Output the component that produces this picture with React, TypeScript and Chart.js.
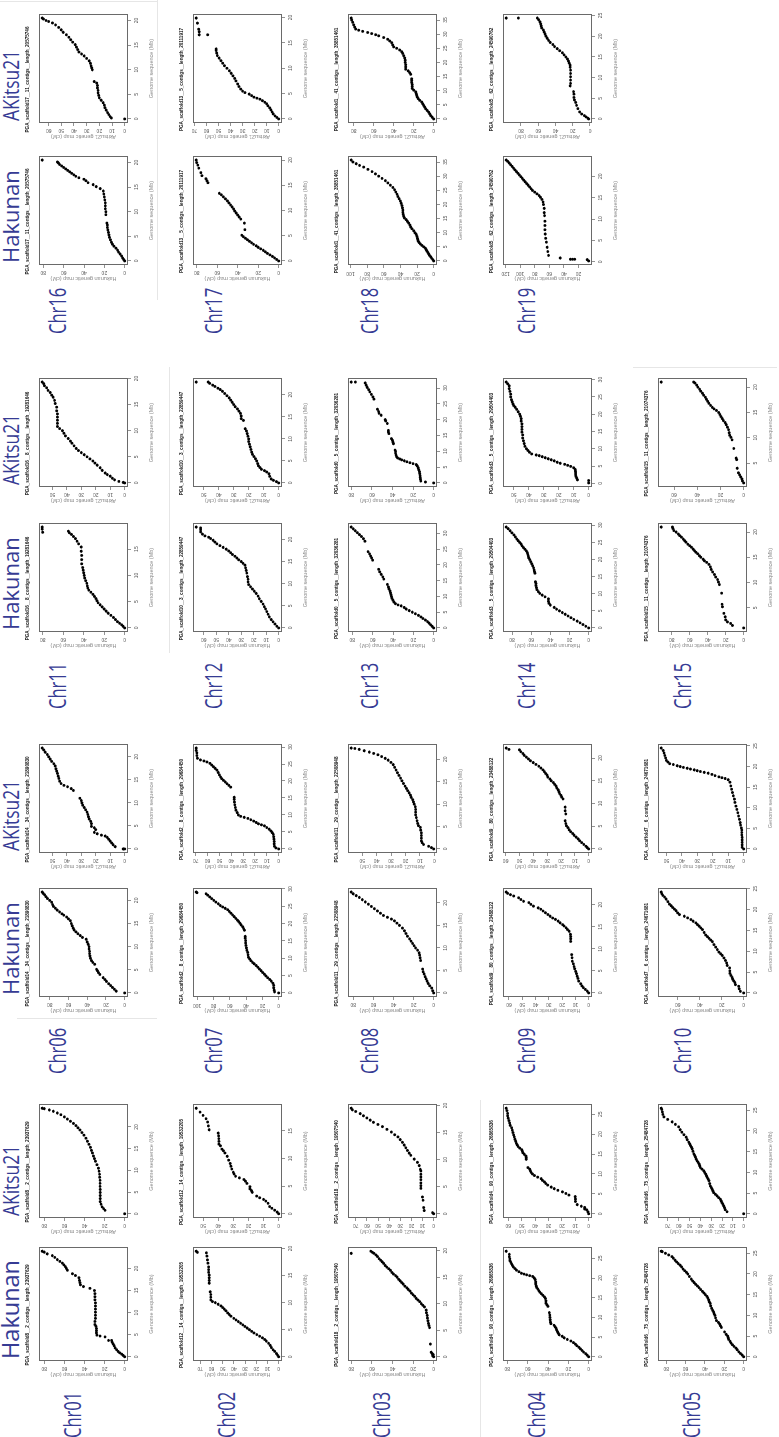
import React, { useEffect, useRef } from 'react';
import { Chart, registerables } from 'chart.js';

Chart.register(...registerables);

type Pt = [number, number];

// ---------- categories / titles ----------
const chromosomes = ['Chr01','Chr02','Chr03','Chr04','Chr05','Chr06','Chr07','Chr08','Chr09','Chr10','Chr11','Chr12','Chr13','Chr14','Chr15','Chr16','Chr17','Chr18','Chr19'];
const scaffoldNames = [
  'PGA_scaffold8__2_contigs__length_23937629',
  'PGA_scaffold12__14_contigs__length_19532205',
  'PGA_scaffold18__2_contigs__length_19507540',
  'PGA_scaffold4__90_contigs__length_26865836',
  'PGA_scaffold6__75_contigs__length_25484728',
  'PGA_scaffold14__34_contigs__length_21890830',
  'PGA_scaffold2__8_contigs__length_29684450',
  'PGA_scaffold11__29_contigs__length_22508948',
  'PGA_scaffold9__80_contigs__length_23488122',
  'PGA_scaffold7__6_contigs__length_24671681',
  'PGA_scaffold16__8_contigs__length_19281646',
  'PGA_scaffold10__3_contigs__length_22859447',
  'PGA_scaffold0__5_contigs__length_32036281',
  'PGA_scaffold3__5_contigs__length_29504403',
  'PGA_scaffold15__11_contigs__length_21074376',
  'PGA_scaffold17__11_contigs__length_20575746',
  'PGA_scaffold13__5_contigs__length_20111917',
  'PGA_scaffold1__41_contigs__length_35851461',
  'PGA_scaffold5__62_contigs__length_24590762',
];
const mapNames = ['Hakunan', 'AKitsu21'];
const yAxisLabels = ['Hakunan genetic map (cM)', 'Akitsu21 genetic map (cM)'];
const xAxisLabel = 'Genome sequence (Mb)';

// ---------- tick labels ----------
const mb20 = [0, 5, 10, 15, 20];
const mb25 = [0, 5, 10, 15, 20, 25];
const mb30 = [0, 5, 10, 15, 20, 25, 30];
const mb35 = [0, 5, 10, 15, 20, 25, 30, 35];
const cm50 = [0, 10, 20, 30, 40, 50];
const cm60 = [0, 10, 20, 30, 40, 50, 60];
const cm70 = [0, 10, 20, 30, 40, 50, 60, 70];
const cm60by20 = [0, 20, 40, 60];
const cm80by20 = [0, 20, 40, 60, 80];
const cm100by20 = [0, 20, 40, 60, 80, 100];
const cm120by20 = [0, 20, 40, 60, 80, 100, 120];
const mbTicksByChr = [mb20, mb20, mb20, mb25, mb25, mb20, mb30, mb20, mb20, mb25, mb20, mb20, mb30, mb30, mb20, mb20, mb20, mb35, mb25];
const hakunanCmTicks = [cm80by20, cm70, cm80by20, cm80by20, cm80by20, cm80by20, cm100by20, cm80by20, cm60, cm60by20, cm80by20, cm70, cm80by20, cm80by20, cm80by20, cm80by20, cm80by20, cm100by20, cm120by20];
const akitsuCmTicks = [cm80by20, cm50, cm70, cm60, cm70, cm50, cm70, cm60, cm60, cm50, cm50, cm50, cm80by20, cm50, cm60by20, cm60, cm70, cm80by20, cm80by20];

// ---------- series values: [genome Mb, genetic map cM] ----------
const chr01Hakunan: Pt[] = [[0,0],[0.3,1.5],[0.6,3],[0.9,5],[1.2,6.5],[1.6,8],[2,9.5],[2.5,10.5],[2.9,11.5],[3.3,12.5],[3.7,13],[3.7,16],[4.5,19.5],[4.7,24.5],[4.9,27.5],[5.4,28],[5.9,28],[6.4,28],[6.9,28.5],[7.3,29.5],[8,29.5],[8.7,29],[9.4,29],[10.1,29],[10.8,29],[11.5,29],[12.2,29],[12.9,29.5],[13.6,29.5],[14.3,29.5],[15,30],[15.5,34.5],[15.9,41],[16.3,44],[16.8,44.5],[17.3,45],[17.9,45.5],[18.4,49],[18.8,52],[19.6,57],[20,58],[20.4,59],[20.8,60.5],[21.2,62],[21.6,64.5],[22,67],[22.5,69.5],[22.9,72],[23.3,77],[23.7,80],[23.9,82]];
const chr01Akitsu: Pt[] = [[0,0],[0.8,19.5],[1.2,21],[1.6,22.5],[2.2,23.5],[2.8,24.3],[3.5,24.3],[4.2,24.3],[4.9,24.3],[5.6,24.3],[6.3,24.5],[7,24.5],[7.7,24.5],[8.4,24.8],[9.1,25],[9.8,25.5],[10.5,26],[11.3,27.5],[12.1,29],[12.7,30],[13.3,31],[14,32],[14.6,33],[15.3,34],[16,35.5],[16.7,37],[17.4,38.5],[18.1,40.5],[18.7,42.5],[19.3,44.5],[19.8,46.5],[20.3,48.5],[20.8,51],[21.3,54],[21.8,57],[22.3,60],[22.8,63.5],[23.2,67],[23.6,71],[23.9,75],[24.2,80],[24.3,82]];
const chr02Hakunan: Pt[] = [[0,0],[0.3,1],[0.6,2],[1,3.5],[1.3,5],[1.7,6.5],[2.1,7.5],[2.5,9],[2.9,11],[3.2,12.5],[3.5,14.5],[3.8,17],[4.1,19.5],[4.4,22],[4.7,24],[5,26],[5.3,28],[5.6,30],[5.9,32],[6.2,34],[6.5,36],[6.8,38],[7.1,40],[7.5,42.5],[7.8,44],[8.1,45.5],[8.5,47],[8.8,48.5],[9.1,50],[9.4,51.5],[9.7,54],[10,56.5],[10.2,59],[10.5,60.5],[11,60.5],[11.5,60.5],[12,61],[13.6,62],[14.1,62],[14.6,62],[15.1,62],[15.6,62.5],[16.1,62.5],[16.6,62.5],[17.3,63],[17.9,63.5],[18.6,64],[19.2,64.5],[19.3,72.5],[19.5,73.5]];
const chr02Akitsu: Pt[] = [[0,0],[0.3,1],[0.65,2.6],[1,4.5],[1.3,6],[1.9,7],[2.3,8.5],[2.6,10],[2.9,12.5],[3.2,14.5],[3.9,17.5],[4.2,18],[4.5,19],[4.9,19],[5.5,21],[5.9,22],[6.2,23],[6.5,26],[6.8,28.5],[7.2,29.5],[7.5,30],[8.1,31],[8.6,31.5],[9.1,32],[9.7,33],[10.4,34],[11,35.5],[11.4,36.5],[11.7,37.5],[12.3,38.5],[12.6,39.5],[13.1,39.5],[13.6,39.6],[14.1,39.7],[14.6,40],[15.2,46],[15.9,46.5],[16.6,47],[17.2,48],[17.8,50],[18.4,52],[19.1,54.5]];
const chr03Hakunan: Pt[] = [[0,0],[0.2,1],[0.4,0.5],[0.6,1.5],[0.85,2.5],[2.4,3.2],[5.5,4],[5.9,4.5],[6.3,5],[6.8,5.5],[7.3,6],[7.8,6.3],[8.3,7],[8.8,7.3],[9.4,8.9],[9.7,10.5],[10,12],[10.4,13.5],[10.7,15.2],[11,17],[11.4,18.4],[11.7,20],[12,21.5],[12.4,23],[12.7,24.7],[13,26],[13.3,27.8],[13.7,29.5],[14,31],[14.3,32.5],[14.6,34],[15,35.5],[15.3,37],[15.6,39],[15.9,40.5],[16.3,42],[16.6,43.7],[16.9,45.5],[17.2,47],[17.6,48.5],[17.9,50],[18.2,51.5],[18.5,53],[18.9,54.5],[19.2,56],[19.5,58],[19.7,59.5],[19.9,61],[19.5,80]];
const chr03Akitsu: Pt[] = [[0,0],[0.2,1],[0.6,8.5],[1.15,9],[2.5,9.5],[3.1,10],[4.7,11.5],[5.2,11.5],[5.7,11.5],[6.3,11.5],[6.8,11.5],[7.3,11.5],[7.9,11.5],[8.2,12],[8.9,13],[9.5,14.5],[10.1,17.5],[10.8,20.5],[11.2,22],[11.7,23.5],[12.2,25],[12.7,26.5],[13.2,28],[13.7,30],[14.2,32],[14.6,35],[15.1,38],[15.6,42],[16.1,46],[16.5,50],[16.9,54],[17.3,57],[17.7,60],[18.1,63],[18.5,66],[18.9,70],[19.2,73],[19.5,74]];
const chr04Hakunan: Pt[] = [[0,0],[0.4,1.5],[0.8,3],[1.2,5],[1.6,6.5],[2,8],[2.4,9.5],[2.8,11.5],[3.2,13],[3.6,15],[4,17.5],[4.4,21],[4.8,24],[5.2,26],[5.6,29],[6,30],[6.4,30.6],[6.8,31.5],[7.2,32],[7.6,33],[8,34],[8.4,37],[8.8,37.5],[9.4,37.8],[10,38],[10.6,38.2],[11.2,38.7],[12.8,40],[13.2,41],[13.6,42],[14.2,42],[14.8,42.5],[15.2,43.5],[15.6,45],[16,46.5],[16.4,48],[16.8,49],[17.2,50],[17.6,51],[18,51.6],[18.5,52],[19,52],[19.6,52.5],[20,53.5],[20.4,55],[20.6,58],[20.8,61],[21,63.5],[21.2,66],[21.6,68.5],[22,71],[22.4,72.5],[22.8,74],[23.2,75],[23.6,75.8],[24,76.5],[24.4,77.4],[24.9,77.5],[25.4,78],[26,78],[26.8,81]];
const chr04Akitsu: Pt[] = [[0,0],[0.5,0.5],[1,1.5],[1.2,3],[1.6,3],[1.9,5.5],[2.3,8.6],[3.1,9.8],[3.7,9.8],[4.3,10],[4.7,14.7],[5.1,17],[5.5,19.6],[5.9,23],[6.3,25.7],[6.7,28],[7.2,30.6],[7.6,32],[8,33],[8.4,34.5],[8.8,35.5],[9.2,38],[9.6,40.4],[10,42],[10.4,43],[10.8,43.5],[11.2,44],[11.6,45.3],[13.7,46.6],[14.1,46.6],[14.5,46.8],[14.9,48],[15.3,49],[15.7,49.5],[16.1,50],[16.5,51.5],[16.9,52.7],[17.3,53.3],[17.7,54],[18.2,54.5],[18.7,55],[19.3,55.5],[19.8,56],[20.4,56.5],[21,57],[21.6,57.5],[22.2,58.5],[22.8,59],[23.4,59.5],[24,60],[24.6,60.5],[25.2,60.5],[25.9,61],[26.5,61.5]];
const chr05Hakunan: Pt[] = [[0,0],[0.4,1.5],[0.8,3.3],[1.2,5],[1.7,6.6],[2.1,8],[2.5,9.9],[2.9,11.5],[3.3,13],[3.7,14],[4.2,15.5],[4.6,16],[5,16.4],[5.4,18],[6,19.7],[7.1,23],[7.5,24],[7.9,24.7],[8.3,26],[8.75,28],[9.4,29],[10,29.6],[10.4,30.5],[10.8,31],[11.2,32],[11.7,33],[12.3,34],[12.9,34.5],[13.3,35.5],[13.75,36],[14.2,37],[14.6,37.8],[15,39.5],[15.4,41],[15.8,42.5],[16.25,44.4],[16.7,46],[17.1,47.7],[17.5,49.5],[17.9,51],[18.3,52.5],[18.75,54],[19.4,56],[20,57.6],[20.4,59],[20.8,60.8],[21.2,62.5],[21.7,64],[22.1,65.5],[22.5,67.4],[22.9,69],[23.3,70.7],[23.8,72.5],[24.2,74],[24.6,77.3],[25,80.6],[25.4,84],[25.5,85]];
const chr05Akitsu: Pt[] = [[0,0],[0.5,15.3],[1,17],[1.5,17.7],[1.9,18.4],[2.3,19.2],[2.7,20],[3.1,20.7],[3.5,21.5],[3.9,23],[4.3,24.5],[4.7,26],[5.1,27.6],[5.5,28.3],[5.9,29],[6.3,29.8],[6.7,30.7],[7.3,31.3],[8,32],[8.4,32.8],[8.8,33.7],[9.2,34.3],[9.6,35],[10,36],[10.4,36.8],[10.8,38.5],[11.2,40],[11.6,40.5],[12,41],[12.4,42],[12.8,43],[13.2,43.8],[13.7,44.5],[14.1,45.2],[14.5,46],[15.1,46.8],[15.7,47.5],[16.1,48.2],[16.5,49],[16.9,49.8],[17.3,50.6],[17.9,52],[18.5,53],[19.1,55],[19.7,57],[20.3,58.5],[21,60],[21.6,63],[22.2,66],[22.8,70],[23.4,73.5],[24,74.5],[24.6,75],[25.2,75.5],[25.5,76]];
const chr06Hakunan: Pt[] = [[0,0],[0.4,9],[0.8,11],[1.2,13],[1.6,15],[2,17],[2.5,19.5],[2.9,21],[3.3,23],[4,26.5],[4.4,28],[4.8,29],[5.1,30],[6.2,32],[6.6,34],[7,35.5],[7.5,36.5],[8,37],[8.5,37.5],[9,37.5],[9.5,38],[10,38],[10.5,39],[11,40],[11.6,41],[12,45],[12.4,47.5],[12.8,50],[13.2,52],[13.6,54],[14,55],[14.5,56],[15,57],[15.6,58],[16,60],[16.4,62],[16.8,65],[17.1,67],[17.5,69.5],[17.9,72],[18.3,74],[18.7,76],[19.1,77],[19.6,78],[20,80],[20.4,82.5],[20.8,84],[21.2,85.5],[21.5,87],[21.8,88]];
const chr06Akitsu: Pt[] = [[0,0],[0,1],[0.5,6.5],[0.9,8],[1.3,9],[1.7,10],[2.1,11],[2.5,12],[2.8,13.5],[3,16],[3.3,19],[3.6,21],[4.2,20],[4.6,21],[4.9,23],[5.5,23],[6,23.5],[6.5,24.5],[7,25],[7.5,25.5],[8,26],[8.5,27],[9,28],[9.5,29],[10,29.5],[10.5,30],[11,31],[12.7,35.5],[13.1,37],[13.5,39.5],[13.8,42],[14.2,44],[14.7,45],[15.3,45.5],[15.8,46],[16.4,46.5],[16.9,47],[17.4,47.5],[18,48],[18.5,49],[19,50.5],[19.5,51.5],[20,52.5],[20.5,53.5],[21,55],[21.5,56],[21.9,57]];
const chr07Hakunan: Pt[] = [[0,0],[0.3,5],[0.8,5.5],[1.5,6],[2.2,6],[2.8,7],[3.4,9],[3.9,11],[4.4,13.5],[4.9,15.5],[5.4,17.5],[5.9,19.5],[6.4,21.5],[6.9,23.5],[7.4,25.5],[7.9,27.5],[8.4,30],[8.8,32],[9.3,34],[9.8,35.5],[10.3,37],[11,37.5],[11.7,38],[12.3,39],[13,39.5],[13.7,40],[14.4,40.5],[15.1,40.5],[15.8,41],[16.3,41],[18.1,42],[18.6,43],[19.1,44],[19.6,46],[20.1,47.5],[20.6,49],[21,50.5],[21.5,52.5],[22,54.5],[22.5,56.5],[23,58.5],[23.5,60.5],[24,62.5],[24.4,65.5],[24.8,68.5],[25.2,71.5],[25.7,74],[26.2,77],[26.7,79.5],[27.2,82],[27.7,84.5],[28.2,87],[28.6,89],[28.9,100],[29.1,101]];
const chr07Akitsu: Pt[] = [[0,0],[0.3,2.3],[0.8,3.5],[1.5,3.7],[2.2,3.8],[2.9,4],[3.6,4.2],[4.3,4.5],[4.8,5.5],[5.3,6.5],[5.8,8],[6.3,10],[6.8,12],[7.1,14.5],[7.4,17],[7.8,19],[8.2,21],[8.6,23.5],[9,26],[9.3,29],[9.6,32],[10,34],[10.7,35],[11.4,36],[12.2,36.5],[13,37],[13.8,37.3],[14.6,37.5],[15.2,37.5],[18.2,40.5],[18.7,42],[19.2,43.5],[19.7,45],[20.2,46.5],[20.7,48],[21.2,49],[21.8,50],[22.5,51],[23.2,52],[23.7,53.5],[24.2,55],[24.7,56.5],[25.2,58],[25.6,60.5],[25.9,63],[26.2,66],[26.7,68.5],[27.5,69],[28.3,69],[29,69.5],[29.7,69.5]];
const chr08Hakunan: Pt[] = [[0,0],[0.5,1],[1.1,2],[1.6,4],[2.1,5.5],[2.6,6.5],[3.1,7.5],[3.6,8.5],[4.2,9.5],[4.7,10.5],[5.3,11],[7.2,13],[7.8,13.5],[8.4,14],[8.9,14.5],[9.5,16],[10,18],[10.5,19.5],[11,21],[11.5,22.5],[12,24],[12.6,26],[13.2,27.5],[13.8,29],[14.4,31],[15,34],[15.5,36.5],[16,39],[16.4,42],[16.8,46],[17.2,50],[17.7,53],[18.2,56],[18.7,59],[19.2,62],[19.7,65],[20.2,68],[20.7,71],[21.2,74],[21.6,77],[22,80],[22.4,82]];
const chr08Akitsu: Pt[] = [[0,0.5],[0.3,2],[0.6,4],[1,7.5],[1.4,8.5],[1.8,9],[2.4,9],[3,9],[3.6,9],[4.2,9.5],[4.8,9.7],[5.2,11],[5.7,11.5],[6.3,12],[7,12.5],[7.6,13],[8.2,13],[8.8,13],[9.4,13.2],[10,14],[10.5,14.5],[11,15],[11.5,16],[12,16.5],[12.5,17.5],[13,18.5],[13.5,19.3],[14,20.3],[14.6,21.4],[15.2,22.4],[15.8,23.4],[16.4,24.5],[17,25.5],[17.6,26.5],[18.2,27.5],[18.8,28.5],[19.3,30],[19.8,32],[20.2,34],[20.6,36.5],[21,39],[21.3,42],[21.6,45],[21.9,48.5],[22.2,52],[22.4,55],[22.5,57.5]];
const chr09Hakunan: Pt[] = [[0,0],[0.4,1],[0.8,2.5],[1.2,4],[1.6,5],[2.1,6],[2.7,7.5],[3.3,8],[3.8,8.6],[4.4,9.2],[4.9,9.8],[5.5,10.5],[6,11],[6.6,11.5],[7.2,12.3],[8,12.5],[8.7,12.7],[11.7,13.5],[12.3,13.5],[12.8,13.5],[13.3,13.7],[14,14.7],[14.4,16],[14.8,17],[15.2,18.5],[15.5,19.6],[15.9,21.5],[16.3,23],[16.7,25],[17,27],[17.4,29],[17.8,30.6],[18.2,32.5],[18.6,34.3],[19,36],[19.3,38],[19.7,41.5],[20.1,43.5],[20.5,45],[20.8,49],[21.2,51],[21.6,52.7],[22,56.4],[22.3,58.8],[22.6,61],[22.9,62]];
const chr09Akitsu: Pt[] = [[0,0],[0.3,1],[0.6,2],[1,3.5],[1.4,5],[1.8,6.5],[2.2,7.5],[2.6,9],[3,10.5],[3.4,11.5],[3.8,13],[4.2,14],[4.7,15],[5.1,16],[5.6,16.5],[6.2,17],[7.7,16.5],[8.4,17],[9.2,17],[11,18.5],[11.4,19.5],[11.8,20],[12.2,21],[12.6,21.5],[13,22],[13.4,23],[13.8,23.5],[14.2,24.5],[14.6,25.5],[15,27],[15.4,28],[15.8,29.5],[16.2,30],[16.6,31],[17,32],[17.4,33],[17.8,34.5],[18.2,36],[18.6,38],[19,40],[19.4,42],[19.8,43.5],[20.2,45],[20.6,46.5],[21,47.5],[21.4,49],[21.8,50],[21.9,57.5],[22.2,59.5]];
const chr10Hakunan: Pt[] = [[0,0],[0.4,3],[1,4],[1.6,4.5],[2,7.5],[2.5,8],[2.9,9],[3.3,10],[3.7,10.5],[4.2,11.5],[4.7,12.5],[5.3,12.6],[6,12.8],[6.6,15],[7.2,15.5],[7.8,16.5],[8.4,18],[9,19.5],[9.4,21],[9.8,22.5],[10.4,24],[11,25.5],[11.6,27],[12.3,28.5],[12.7,30],[13.1,31.5],[13.5,33],[13.9,34.5],[14.5,36],[15.2,37.5],[15.6,39],[16,40.5],[16.4,42],[16.8,43.5],[17.2,46],[17.6,48],[18,51],[18.4,54],[18.8,58.5],[19.2,60],[19.7,61.5],[20.1,63],[20.5,64.6],[20.9,66],[21.3,67.6],[21.9,69],[22.5,70.6],[23,72],[23.4,73.6],[23.8,74.5],[24.2,75]];
const chr10Akitsu: Pt[] = [[0,0],[0.4,1],[1,1],[1.6,1],[2.2,1],[2.8,1],[3.4,1.2],[4,1.2],[4.6,1.2],[5.1,1.5],[5.8,2],[6.4,2.2],[7.2,2.7],[8,3.3],[8.8,3.8],[9.6,4.4],[10.4,5],[11.3,5.6],[12.1,6],[12.9,6.7],[13.7,7.2],[14.5,7.8],[15.3,8.3],[16.2,8.9],[16.8,10],[17.1,12],[17.3,14],[17.5,16],[17.8,18.5],[18.1,20.5],[18.4,23],[18.6,25.5],[18.8,28],[19,30],[19.2,32],[19.4,34.4],[19.6,36.5],[19.8,39],[20,41],[20.2,43],[20.5,45.5],[20.7,47.8],[21.1,49],[21.5,50],[22.1,50.5],[22.7,51],[23.3,51.5],[23.9,52],[24.5,53.3]];
const chr11Hakunan: Pt[] = [[0,0],[0.3,1.5],[0.6,3],[0.9,5],[1.2,7],[1.6,9],[2,11],[2.4,13.5],[2.8,16],[3.2,18],[3.6,20],[4,22],[4.4,24],[4.8,26],[5.2,27],[5.6,28],[6,29.5],[6.4,31],[6.8,33],[7.2,35],[7.6,36],[8,36.5],[8.5,37],[9,38],[9.5,39],[10,39.5],[10.5,40],[11,40.5],[11.5,41],[12.2,42],[13,42],[13.8,42],[14.6,42.5],[15.4,42.5],[16,45],[16.5,46.5],[17,48],[17.4,50],[17.8,52],[18.1,54],[18.4,55],[18.2,80],[18.8,80.5],[19.2,80.5]];
const chr11Akitsu: Pt[] = [[0,0],[0.1,1],[0.3,4],[0.6,7],[0.9,8.5],[1.3,10],[1.6,12],[1.9,13.5],[2.4,15.5],[2.9,17],[3.4,19],[3.8,20.5],[4.2,22],[4.6,24],[5,26],[5.4,28],[5.8,30],[6.2,32],[6.6,33.5],[7.1,35],[7.6,36.5],[8,37.5],[8.5,39],[9,41],[9.5,42],[10,43],[10.4,45],[10.8,46.5],[11.4,46.5],[12,46.5],[12.6,46.5],[13.2,46.5],[13.8,47],[14.5,47],[15.2,48],[15.8,48.5],[16.4,49.5],[16.8,50.5],[17.3,51.5],[17.7,53],[18.2,54],[18.6,55.5],[19,56],[19.3,57]];
const chr12Hakunan: Pt[] = [[0,0],[0.4,1.5],[0.9,3],[1.4,4.5],[1.9,6],[2.5,7.5],[3.1,8.5],[3.7,9.5],[4.3,10.5],[4.8,11.5],[5.4,12.5],[6,14],[6.6,15.5],[7.2,16.5],[7.8,18],[8.3,19.5],[8.8,21],[9.3,22.5],[9.8,24],[10.4,24.5],[11,24.5],[11.6,25],[12.4,25.5],[13,26],[13.6,26.5],[14.2,27],[14.6,28.5],[15,30],[15.4,32],[15.8,33.5],[16.2,35],[16.6,37],[17,38.5],[17.4,40],[17.8,42],[18.2,44.5],[18.6,47],[19,49.5],[19.4,51],[19.8,52.5],[20.2,54.5],[20.5,56],[20.8,59],[21.2,61],[21.7,62.5],[22.2,62.5],[22.6,62.5],[22.8,66]];
const chr12Akitsu: Pt[] = [[0,0],[0.3,1.5],[0.6,3.5],[0.9,5],[1.5,6],[2.1,6.5],[2.5,8],[2.8,9.5],[3.1,11.5],[3.5,12.5],[3.9,13.5],[4.4,14],[5,14.7],[5.5,15.5],[6,16.5],[6.5,17.5],[7,18],[7.6,18.5],[8.2,19],[8.8,19.5],[9.4,20],[10,20],[10.6,20.5],[11.2,21],[11.8,21.5],[12.3,22.3],[14.2,23.5],[14.6,25],[15.2,25],[15.8,25.5],[16.3,26.5],[16.8,27.5],[17.3,29],[17.8,30],[18.3,31],[18.8,32],[19.3,33],[19.8,34.5],[20.3,36],[20.8,37.5],[21.2,39],[21.5,40.5],[21.9,42.5],[22.2,44],[22.6,46],[22.9,47],[22.9,55]];
const chr13Hakunan: Pt[] = [[0,0],[0.5,1.5],[1,3],[1.5,4.5],[2,6],[2.5,8],[3,10.5],[3.5,12.5],[4,15],[4.5,18],[5,21],[5.5,24],[6,27],[6.5,29],[7,32],[7.3,35],[7.7,37.5],[8.2,39],[8.8,40],[9.4,41],[10,41.5],[10.6,42],[11.2,42.5],[11.8,43],[12.4,44],[13,44.5],[13.8,45.5],[15.5,49],[16.2,50],[17,51.5],[17.8,53],[18.6,54],[21.5,60],[22.2,61],[22.8,62],[23.5,63],[24.2,64.5],[27.5,67.5],[28.3,69],[29,71],[29.6,73],[30.2,75],[30.8,77],[31.4,79],[32,81]];
const chr13Akitsu: Pt[] = [[0,0],[0.3,8],[0.6,12.5],[1.2,12.8],[1.8,13],[2.4,13.2],[3,13.5],[3.6,13.8],[4.2,14.5],[4.8,15],[5.4,16],[5.8,17],[6.1,20],[6.4,23],[6.7,26],[7,28.5],[7.3,31],[7.6,33],[7.9,35],[8.3,36],[8.8,36.5],[9.4,37],[10,37],[10.4,37.5],[12.4,39],[12.9,39.5],[13.5,40],[14,41],[15.6,43.5],[16.1,44],[16.6,44],[18.8,45],[19.6,46.5],[20,47],[21.4,51],[22,53],[22.6,53.5],[23.3,54.5],[26.5,58],[27.2,59],[28,60.5],[28.8,62],[29.5,63],[30.2,64.5],[30.9,65.5],[31.6,66.5],[31.9,76],[31.9,80]];
const chr14Hakunan: Pt[] = [[0,0],[0.5,3],[1,6],[1.5,9],[2,12],[2.5,15.5],[3,18.5],[3.5,21.5],[4,24.5],[4.5,27.5],[5,30.5],[5.5,33.5],[6,36],[6.7,40],[7.2,41.5],[7.8,42],[8.5,42],[9.1,45.5],[9.6,48.5],[10.1,51],[10.6,52.5],[11.2,54],[11.8,54.5],[12.4,55],[13,55],[13.5,55.5],[16,56],[16.5,56.5],[17,57],[17.6,57.5],[18.2,58.5],[18.8,59.5],[19.4,60.5],[20,61.5],[20.5,62.5],[21,63],[21.5,63.5],[22,64],[22.5,65],[23,66.5],[23.5,68],[24,69.5],[24.5,70.5],[25,72],[25.5,73.5],[26,75],[26.6,76.5],[27.2,78],[27.8,80],[28.4,82],[29,84],[29.5,86]];
const chr14Akitsu: Pt[] = [[0.1,0],[0.8,0],[1,7.5],[1.5,8],[2,8.5],[2.5,8.7],[3,8.7],[3.5,8.8],[4,9],[4.5,10],[4.9,12],[5.2,14],[5.5,16],[5.8,19],[6.1,21],[6.5,23],[6.8,25],[7.1,27],[7.4,29],[7.7,31],[8,33],[8.2,35],[8.5,38],[9,39.5],[9.5,40.5],[10,41.5],[10.7,42.5],[11.5,43],[12.3,43.5],[13.1,44],[14,44],[14.8,44.5],[15.6,44.5],[16.4,44.5],[17.2,44.5],[18,45],[18.7,45],[19.4,45.5],[20,46],[20.7,47],[21.4,48],[22,49],[22.5,50],[23,50.5],[23.6,51],[24.2,51.5],[25,52],[25.8,52],[26.6,52.5],[27.4,53],[28.2,53],[28.8,54],[29.3,55]];
const chr15Hakunan: Pt[] = [[1,0],[1.5,12.5],[1.9,14.5],[2.2,18],[2.6,20],[3.2,20.5],[3.9,22],[5.2,23.5],[5.7,24],[7.9,24.5],[9.6,27],[10.1,28],[10.6,29],[11.1,31],[11.6,32.5],[12.1,34.5],[12.6,36],[13.1,37],[13.6,38.5],[14,41],[14.3,43.5],[14.6,45],[15,47.5],[15.3,49],[15.7,51],[16,53],[16.3,54.5],[16.6,56],[17,58],[17.3,60],[17.6,62],[18,64],[18.3,65.5],[18.6,67],[19,69],[19.3,71],[19.6,72.5],[20,75],[20.3,77.5],[20.7,78.5],[21,79],[21,91.5]];
const chr15Akitsu: Pt[] = [[1.1,0],[1.5,1],[1.9,1.5],[2.3,2.5],[2.7,3.5],[3.1,4.5],[4,5.5],[5.7,6],[6,6.5],[7.9,8.5],[9.6,10],[10.1,11],[10.5,12],[11,12.5],[11.6,13],[12.1,14],[12.6,15],[13,16],[13.4,17.5],[13.8,18.5],[14.2,19.5],[14.6,20.5],[15,21.5],[15.4,23.5],[15.7,25.5],[16,27],[16.4,28.5],[16.8,30],[17.2,31],[17.6,32],[18,33],[18.4,34.5],[18.8,35.5],[19.2,37],[19.6,38],[20,39.5],[20.4,40.5],[20.8,42],[21,43],[21,71]];
const chr16Hakunan: Pt[] = [[0,0],[0.3,1],[0.6,2],[1,3],[1.4,4.5],[1.8,6],[2.2,7],[2.6,8.5],[3,10.5],[3.4,12],[3.8,13],[4.3,14],[4.8,15],[5.3,15.5],[5.8,16],[6.3,16.5],[6.8,17],[7.3,17],[7.7,17.5],[9.4,18.5],[10,18.5],[10.6,19],[11.2,19],[11.8,19],[12.4,19.5],[13,20],[13.6,20.5],[14.2,21],[14.7,24],[15.1,28],[15.5,31],[15.9,36],[16.3,38],[16.6,40],[16.9,45],[17.2,48],[17.5,50],[17.8,52],[18.1,54],[18.4,56],[18.7,58],[19,60],[19.3,62],[19.6,64],[19.9,65],[20.1,66],[20.5,81]];
const chr16Akitsu: Pt[] = [[0,0],[0.2,10.5],[0.5,11.5],[0.9,12.5],[1.3,13.5],[1.8,14.5],[2.3,15.5],[2.8,16],[3.3,17],[3.8,18.5],[4.3,20],[4.8,20.5],[5.3,21],[5.8,21],[6.3,21.5],[6.8,21.5],[7.3,22],[7.6,24],[10,25.5],[10.4,26],[10.8,26.5],[11.3,27],[11.8,28],[12.3,30],[12.8,32],[13.2,34],[13.6,36],[14.1,37],[14.6,38],[15.1,39],[15.6,41],[16.1,42.5],[16.6,44],[17.1,46],[17.6,48.5],[18.1,50],[18.6,52],[19.1,54.5],[19.5,57],[19.8,60],[20,62],[20.3,64],[20.5,65]];
const chr17Hakunan: Pt[] = [[0,0],[0.3,2],[0.6,4],[0.9,6],[1.2,8.5],[1.5,11],[1.8,13],[2.1,15],[2.4,17.5],[2.7,20],[3,22],[3.3,24.5],[3.6,26.5],[3.9,28.5],[4.2,30.5],[4.5,32.5],[4.8,34.5],[5.1,36],[6.2,33],[7.5,33.5],[8.3,37],[8.7,38.5],[9.1,40],[9.5,41.5],[9.9,43],[10.3,44],[10.7,45.5],[11.1,47],[11.5,48.5],[11.9,50],[12.3,52],[12.7,54],[13.1,56],[13.4,58],[15.5,69],[15.9,70],[16.3,71],[16.9,75],[17.5,76],[18.4,78],[19,79],[19.5,80],[20,80.5]];
const chr17Akitsu: Pt[] = [[0,0],[0.3,1.5],[0.6,3],[1,4.5],[1.4,5.5],[1.8,6.5],[2.2,7.5],[2.6,9],[3,10],[3.3,11.5],[3.6,13.5],[3.9,15.5],[4.1,18],[4.3,20.5],[4.6,22.5],[4.9,24.5],[5.2,28],[5.5,30],[5.9,31.5],[6.4,33],[6.9,34],[7.5,35.5],[8,36.5],[8.5,38],[9,39.5],[9.5,41],[10,43],[10.5,45],[11,46.5],[11.5,48],[12,49.5],[12.5,51],[13,51.5],[13.5,52],[13.8,52],[16.6,59],[16.6,66],[17.2,66],[17.7,66.5],[18.9,67.5],[19.9,68.5]];
const chr18Hakunan: Pt[] = [[0,0],[0.5,1],[1,2.5],[1.5,3.5],[2,5],[2.5,6],[3,7],[3.5,8],[4,9],[4.5,10],[5,12],[5.5,14],[6,16],[6.5,17.5],[7,18.5],[7.5,19],[8,19.5],[8.7,20],[9.4,21],[10,22.5],[10.7,24],[11.4,26],[12,27.5],[12.7,28.5],[13.4,30],[14,31.5],[14.6,33],[15.2,35],[15.8,36],[16.5,36.5],[17.2,37],[18,37],[18.8,37.5],[19.6,38],[20.4,39],[21.2,40],[22,41.5],[22.8,43],[23.6,44],[24.4,45.5],[25.2,47],[26,49],[26.8,52],[27.6,55],[28.4,58],[29.2,62],[30,66],[30.8,70],[31.6,74],[32.4,79],[33.2,84],[33.8,89],[34.4,93],[35,97],[35.7,99]];
const chr18Akitsu: Pt[] = [[0,0],[0.6,1.5],[1.2,3],[1.8,4],[2.4,5],[3,6.5],[3.6,8],[4.2,9],[4.8,10],[5.4,11],[6,12],[6.6,14],[7.2,15.5],[7.8,16.5],[8.4,17],[9,17.5],[9.6,18],[10.2,20],[10.8,21.5],[11.5,21.5],[12.2,21.5],[12.9,22],[13.6,22],[14.2,22],[15.8,23],[16.4,24],[17,25.5],[17.6,28],[18.4,28],[19.2,28],[20,28.5],[20.8,28.5],[21.6,29],[22.4,30],[23.2,31],[23.8,32],[24.4,34],[25,37],[25.5,40],[26.2,41],[27,42],[27.6,44],[28.2,46],[28.8,50],[29.4,55],[29.8,58],[30.2,62],[30.6,66],[31,71],[31.4,75],[31.8,78],[32.5,79],[33.3,80],[34.2,81],[35,82],[35.7,82.5]];
const chr19Hakunan: Pt[] = [[0.2,6],[0.5,8],[0.6,25],[0.6,28],[0.6,31],[0.9,45],[1.5,61],[2.4,62],[3.4,63],[4.6,64],[5.5,65],[6.5,65.5],[7.5,66],[8.5,66],[9.5,66],[10.8,66.5],[11.5,67],[12.5,67],[13.4,68],[14,68.5],[14.6,70],[15.1,72],[15.5,74],[15.9,77],[16.3,80],[16.7,83],[17.1,85],[17.5,87],[17.9,89],[18.3,91],[18.7,93],[19.1,95],[19.5,97],[19.9,99],[20.3,101],[20.7,103],[21.1,105],[21.5,107],[21.9,109],[22.3,111],[22.7,113],[23.1,115],[23.5,117],[23.8,119]];
const chr19Akitsu: Pt[] = [[0,1.5],[0.2,2.5],[0.5,4.5],[0.8,6.5],[1.2,9.5],[1.7,12],[2.5,14],[3.3,15.5],[4,16.5],[4.6,18],[5.2,18.5],[6,18.5],[6.6,19],[8,23],[8.6,22.5],[9.4,22.5],[10.2,22.5],[11,22.5],[11.8,22.5],[12.5,23],[13,23],[13.5,24],[14,25],[14.5,26],[15,28],[15.5,30],[16,32],[16.5,35],[17,38],[17.5,41],[18,43],[18.5,46],[19,48],[19.5,49.5],[20,51],[20.5,52],[21,53],[21.5,54],[22,56],[22.5,56.5],[23,57],[23.5,58],[24,59.5],[24.4,61],[24.4,83],[24.4,97]];

const hakunanData: Pt[][] = [chr01Hakunan, chr02Hakunan, chr03Hakunan, chr04Hakunan, chr05Hakunan, chr06Hakunan, chr07Hakunan, chr08Hakunan, chr09Hakunan, chr10Hakunan, chr11Hakunan, chr12Hakunan, chr13Hakunan, chr14Hakunan, chr15Hakunan, chr16Hakunan, chr17Hakunan, chr18Hakunan, chr19Hakunan];
const akitsuData: Pt[][] = [chr01Akitsu, chr02Akitsu, chr03Akitsu, chr04Akitsu, chr05Akitsu, chr06Akitsu, chr07Akitsu, chr08Akitsu, chr09Akitsu, chr10Akitsu, chr11Akitsu, chr12Akitsu, chr13Akitsu, chr14Akitsu, chr15Akitsu, chr16Akitsu, chr17Akitsu, chr18Akitsu, chr19Akitsu];

// ---------- layout (unrotated figure, 1437 x 779) ----------
const FIG_W = 1437;
const FIG_H = 779;
const groupHakunanX = [76, 440, 805, 1172];
const groupAkitsuX = [219, 584, 950, 1314];
const groupBoxW = [114, 109, 109, 109];
const rowTop = [39, 193, 348, 503, 658];
const BOX_H = 89;
const PAD_L = 22, PAD_R = 6, PAD_T = 16, PAD_B = 27;
const TITLE_BLUE = '#363b94';
const SMALL_FONT = "'Liberation Sans', Arial, sans-serif";

const framePlugin = {
  id: 'panelFrame',
  afterDatasetsDraw(chart: any) {
    const { ctx, chartArea: a } = chart;
    ctx.save();
    ctx.strokeStyle = '#6a6a6a';
    ctx.lineWidth = 1;
    ctx.strokeRect(Math.round(a.left) + 0.5, Math.round(a.top) + 0.5, Math.round(a.width) - 1, Math.round(a.height) - 1);
    ctx.restore();
  },
};

function padRange(vals: number[]) {
  const lo = Math.min(...vals), hi = Math.max(...vals);
  const r = hi - lo;
  return [lo - 0.04 * r, hi + 0.04 * r];
}

type PanelProps = { left: number; top: number; boxW: number; points: Pt[]; mbTicks: number[]; cmTicks: number[]; title: string; yLabel: string };

function Panel({ left, top, boxW, points, mbTicks, cmTicks, title, yLabel }: PanelProps) {
  const ref = useRef<HTMLCanvasElement | null>(null);
  const W = PAD_L + boxW + PAD_R;
  const H = PAD_T + BOX_H + PAD_B;
  useEffect(() => {
    if (!ref.current) return;
    const [xmin, xmax] = padRange(points.map((p) => p[0]));
    const [ymin, ymax] = padRange(points.map((p) => p[1]));
    const chart = new Chart(ref.current, {
      type: 'scatter',
      data: {
        datasets: [{
          data: points.map(([x, y]) => ({ x, y })),
          pointRadius: 1.45,
          pointHoverRadius: 1.45,
          pointBackgroundColor: '#000',
          pointBorderWidth: 0,
          pointStyle: 'circle',
        }],
      },
      options: {
        animation: false,
        responsive: false,
        maintainAspectRatio: false,
        events: [],
        layout: { padding: { left: 0, right: PAD_R, top: 0, bottom: 0 } },
        plugins: {
          legend: { display: false },
          tooltip: { enabled: false },
          title: {
            display: true,
            text: title,
            color: '#111',
            font: { family: SMALL_FONT, size: 4.6, weight: 'bold', lineHeight: 1.2 },
            padding: { top: 2, bottom: PAD_T - 2 - 4.6 * 1.2 },
          },
        },
        scales: {
          x: {
            type: 'linear',
            min: xmin,
            max: xmax,
            afterBuildTicks: (s: any) => { s.ticks = mbTicks.filter((v) => v >= s.min && v <= s.max).map((v) => ({ value: v })); },
            afterFit: (s: any) => { s.height = PAD_B; },
            grid: { display: true, drawOnChartArea: false, drawTicks: true, tickLength: 3, color: '#777', lineWidth: 0.8 },
            border: { display: false },
            ticks: { font: { family: SMALL_FONT, size: 5 }, color: '#555', padding: 3, autoSkip: false, maxRotation: 0, minRotation: 0 },
            title: { display: true, text: xAxisLabel, color: '#8a8a8a', font: { family: SMALL_FONT, size: 5.5, lineHeight: 1.2 }, padding: { top: 0, bottom: 0.7 } },
          },
          y: {
            type: 'linear',
            min: ymin,
            max: ymax,
            afterBuildTicks: (s: any) => { s.ticks = cmTicks.filter((v) => v >= s.min && v <= s.max).map((v) => ({ value: v })); },
            afterFit: (s: any) => { s.width = PAD_L; },
            grid: { display: true, drawOnChartArea: false, drawTicks: true, tickLength: 3, color: '#777', lineWidth: 0.8 },
            border: { display: false },
            ticks: { font: { family: SMALL_FONT, size: 5 }, color: '#555', padding: 1.2, autoSkip: false, minRotation: 90, maxRotation: 90, crossAlign: 'center' },
            title: { display: true, text: yLabel, color: '#8a8a8a', font: { family: SMALL_FONT, size: 5.5, lineHeight: 1.2 }, padding: { top: 4.7, bottom: 0 } },
          },
        },
      } as any,
      plugins: [framePlugin],
    });
    return () => chart.destroy();
  }, []);
  return (
    <canvas
      ref={ref}
      width={W}
      height={H}
      style={{ position: 'absolute', left: left - PAD_L, top: top - PAD_T, width: W, height: H }}
    />
  );
}

const faintLines = [
  { left: 1137, top: 157, width: 300, height: 1 },
  { left: 784, top: 169, width: 286, height: 1 },
  { left: 418, top: 17, width: 1, height: 140 },
  { left: 1069, top: 633, width: 1, height: 144 },
  { left: 1435, top: 0, width: 1, height: 157 },
  { left: 0, top: 480, width: 337, height: 1 },
];

export default function App() {
  const panels: any[] = [];
  const labels: any[] = [];
  chromosomes.forEach((chr, i) => {
    const g = Math.floor(i / 5);
    const row = i % 5;
    const top = rowTop[row];
    const bw = groupBoxW[g];
    panels.push(
      <Panel key={chr + 'h'} left={groupHakunanX[g]} top={top} boxW={bw} points={hakunanData[i]} mbTicks={mbTicksByChr[i]} cmTicks={hakunanCmTicks[i]} title={scaffoldNames[i]} yLabel={yAxisLabels[0]} />,
      <Panel key={chr + 'a'} left={groupAkitsuX[g]} top={top} boxW={bw} points={akitsuData[i]} mbTicks={mbTicksByChr[i]} cmTicks={akitsuCmTicks[i]} title={scaffoldNames[i]} yLabel={yAxisLabels[1]} />,
    );
    const capTop = top + (g === 0 ? 26 : 11 + row * 1.5);
    const rightEdge = groupHakunanX[g] - (g === 3 ? 23 : 31);
    labels.push(
      <div key={chr + 'lbl'} style={{ position: 'absolute', right: FIG_W - rightEdge, top: capTop - 4, fontFamily: "'Open Sans', sans-serif", fontSize: 23, lineHeight: '23px', color: TITLE_BLUE, whiteSpace: 'nowrap', transform: 'scaleX(0.72)', transformOrigin: 'right center' }}>{chr}</div>,
    );
  });
  const headers: any[] = [];
  for (let g = 0; g < 4; g++) {
    headers.push(
      <div key={'hh' + g} style={{ position: 'absolute', left: groupHakunanX[g] + 2, top: -1, fontFamily: "'Open Sans', sans-serif", fontSize: g === 0 ? 23.5 : 22, lineHeight: '22px', color: TITLE_BLUE, whiteSpace: 'nowrap' }}>{mapNames[0]}</div>,
      <div key={'ha' + g} style={{ position: 'absolute', left: groupAkitsuX[g] + 2, top: -1, fontFamily: "'Open Sans', sans-serif", fontSize: 22, lineHeight: '22px', color: TITLE_BLUE, whiteSpace: 'nowrap', transform: 'scaleX(0.79)', transformOrigin: 'left center' }}>{mapNames[1]}</div>,
    );
  }
  return (
    <div style={{ position: 'absolute', left: 0, top: 0, width: FIG_H, height: FIG_W, overflow: 'hidden', background: '#fff' }}>
      <div style={{ position: 'absolute', left: 0, top: 0, width: FIG_W, height: FIG_H, transformOrigin: '0 0', transform: `translateY(${FIG_W}px) rotate(-90deg)` }}>
        {faintLines.map((l, k) => (
          <div key={'fl' + k} style={{ position: 'absolute', left: l.left, top: l.top, width: l.width, height: l.height, background: '#e6e6e6' }} />
        ))}
        {headers}
        {labels}
        {panels}
      </div>
    </div>
  );
}
